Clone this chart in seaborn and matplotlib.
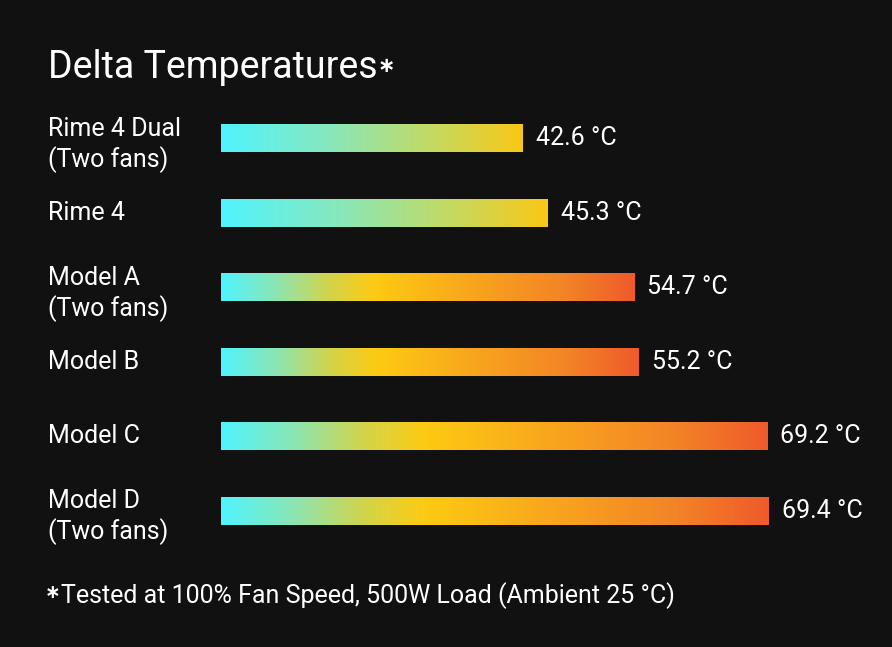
import numpy as np
import matplotlib.pyplot as plt
import seaborn as sns
from matplotlib.colors import LinearSegmentedColormap
from matplotlib.transforms import blended_transform_factory

# Datos
labels = ["Rime 4 Dual\n(Two fans)", "Rime 4", "Model A\n(Two fans)",
          "Model B", "Model C", "Model D\n(Two fans)"]
temps = [42.6, 45.3, 54.7, 55.2, 69.2, 69.4]
ours = [True, True, False, False, False, False]

title = "Delta Temperatures"
footnote = "Tested at 100% Fan Speed, 500W Load (Ambient 25 °C)"
star = "\u2217"

sns.set_theme(style="dark")
plt.rcParams['font.family'] = ['Roboto', 'DejaVu Sans']
bg = "#111111"

# Gradientes
cmap_rime = LinearSegmentedColormap.from_list(
    "rime", [(0, "#50F4FE"), (0.35, "#86E8BE"), (0.7, "#C4DA62"), (1, "#FAC815")])
cmap_model = LinearSegmentedColormap.from_list(
    "model", [(0, "#50F4FE"), (0.13, "#8AE6B4"), (0.26, "#D2D44A"),
              (0.37, "#FDCB12"), (0.62, "#F8A31E"), (0.83, "#F38426"), (1, "#EF5A2B")])

fig = plt.figure(figsize=(8.92, 6.47), dpi=100, facecolor=bg)
ax = fig.add_axes([221 / 892, 99 / 647, 1 - 221 / 892, 447 / 647])
ax.set_facecolor(bg)

sns.barplot(x=temps, y=labels, orient="h", ax=ax, width=0.375)

xmin, xmax = 9.7, 82.8
grad = np.linspace(0, 1, 256).reshape(1, -1)
for patch, is_ours in zip(ax.patches, ours):
    x1 = patch.get_x() + patch.get_width()
    y0 = patch.get_y()
    h = patch.get_height()
    patch.set_alpha(0)
    ax.imshow(grad, extent=[xmin, x1, y0 + h, y0], aspect="auto",
              cmap=cmap_rime if is_ours else cmap_model, zorder=2)

ax.set_xlim(xmin, xmax)
ax.set_ylim(len(labels) - 0.5, -0.5)

# Valores
for i, v in enumerate(temps):
    ax.text(v + 1.4, i, f"{v} °C", va="center", ha="left",
            color="white", fontsize=18)

# Etiquetas de categorias
trans = blended_transform_factory(fig.transFigure, ax.transData)
for i, lab in enumerate(labels):
    y = i + 0.09 if "\n" in lab else i
    ax.text(48 / 892, y, lab, transform=trans, ha="left", va="center",
            color="white", fontsize=18, linespacing=1.25)

ax.set_xticks([])
ax.set_yticks([])
ax.set_xlabel("")
ax.set_ylabel("")
sns.despine(ax=ax, left=True, bottom=True)

# Titulo y nota
t = fig.text(48 / 892, 1 - 78 / 647, title, color="white", fontsize=27, va="baseline")
ax.annotate(star, xy=(1, 1 - 72.5 / 647), xycoords=(t, "figure fraction"),
            color="white", fontsize=15, va="baseline", ha="left",
            family="DejaVu Sans", fontweight="bold", annotation_clip=False)

fig.text(45 / 892, 1 - 597.5 / 647, star, color="white", fontsize=13.5,
         va="baseline", family="DejaVu Sans", fontweight="bold")
fig.text(61 / 892, 1 - 603 / 647, footnote, color="white", fontsize=18, va="baseline")

fig.savefig("out.png", dpi=100, facecolor=bg)
